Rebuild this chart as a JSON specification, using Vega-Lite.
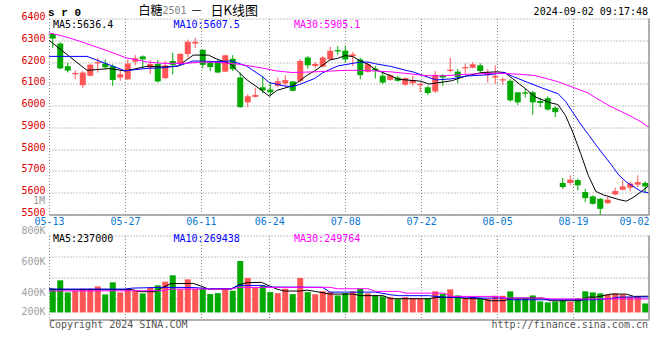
{
"$schema":"https://vega.github.io/schema/vega-lite/v6.json",
"padding":{"left":20,"top":4.5,"right":0,"bottom":0},
"background":"#ffffff",
"bounds":"flush",
"spacing":21,
"resolve":{"scale":{"x":"independent","y":"independent","color":"independent"}},
"config":{"view":{"stroke":null},"axis":{"labelFont":"DejaVu Sans Mono","labelFontSize":10,"ticks":false,"domain":false,"gridColor":"#888888","gridDash":[1,2],"gridWidth":1,"gridOpacity":1,"labelOverlap":false},"text":{"font":"DejaVu Sans Mono","fontSize":10,"baseline":"middle"}},
"datasets":{
"k":[
{"d":"05-13","o":6329,"h":6334,"l":6265,"c":6308,"v":293},
{"d":"05-14","o":6285,"h":6291,"l":6167,"c":6171,"v":373},
{"d":"05-15","o":6181,"h":6197,"l":6152,"c":6161,"v":258},
{"d":"05-16","o":6144,"h":6162,"l":6121,"c":6150,"v":274},
{"d":"05-17","o":6094,"h":6159,"l":6081,"c":6152,"v":293},
{"d":"05-20","o":6137,"h":6193,"l":6134,"c":6188,"v":293},
{"d":"05-21","o":6194,"h":6220,"l":6152,"c":6200,"v":315},
{"d":"05-22","o":6193,"h":6212,"l":6167,"c":6176,"v":239},
{"d":"05-23","o":6181,"h":6190,"l":6091,"c":6118,"v":354},
{"d":"05-24","o":6129,"h":6159,"l":6114,"c":6144,"v":258},
{"d":"05-27","o":6121,"h":6212,"l":6118,"c":6193,"v":293},
{"d":"05-28","o":6202,"h":6232,"l":6185,"c":6217,"v":274},
{"d":"05-29","o":6226,"h":6231,"l":6174,"c":6212,"v":248},
{"d":"05-30","o":6174,"h":6209,"l":6144,"c":6191,"v":306},
{"d":"05-31","o":6191,"h":6209,"l":6106,"c":6111,"v":325},
{"d":"06-03","o":6126,"h":6206,"l":6121,"c":6185,"v":360},
{"d":"06-04","o":6205,"h":6243,"l":6144,"c":6187,"v":421},
{"d":"06-05","o":6190,"h":6240,"l":6188,"c":6238,"v":287},
{"d":"06-06","o":6237,"h":6303,"l":6220,"c":6293,"v":382},
{"d":"06-07","o":6285,"h":6311,"l":6265,"c":6293,"v":293},
{"d":"06-11","o":6256,"h":6258,"l":6171,"c":6187,"v":293},
{"d":"06-12","o":6200,"h":6202,"l":6159,"c":6177,"v":242},
{"d":"06-13","o":6200,"h":6209,"l":6149,"c":6152,"v":251},
{"d":"06-14","o":6156,"h":6233,"l":6154,"c":6231,"v":293},
{"d":"06-17","o":6215,"h":6232,"l":6159,"c":6167,"v":274},
{"d":"06-18","o":6129,"h":6152,"l":5990,"c":5993,"v":557},
{"d":"06-19","o":6015,"h":6053,"l":5993,"c":6043,"v":395},
{"d":"06-20","o":6040,"h":6082,"l":6037,"c":6049,"v":303},
{"d":"06-21","o":6084,"h":6137,"l":6058,"c":6070,"v":325},
{"d":"06-24","o":6074,"h":6106,"l":6043,"c":6061,"v":261},
{"d":"06-25","o":6091,"h":6129,"l":6084,"c":6112,"v":251},
{"d":"06-26","o":6102,"h":6140,"l":6088,"c":6117,"v":293},
{"d":"06-27","o":6111,"h":6113,"l":6065,"c":6068,"v":242},
{"d":"06-28","o":6114,"h":6215,"l":6106,"c":6205,"v":395},
{"d":"07-01","o":6221,"h":6227,"l":6170,"c":6185,"v":261},
{"d":"07-02","o":6182,"h":6200,"l":6173,"c":6191,"v":240},
{"d":"07-03","o":6179,"h":6227,"l":6174,"c":6221,"v":270},
{"d":"07-04","o":6212,"h":6270,"l":6210,"c":6252,"v":261},
{"d":"07-05","o":6255,"h":6273,"l":6232,"c":6249,"v":229},
{"d":"07-08","o":6252,"h":6276,"l":6197,"c":6212,"v":251},
{"d":"07-09","o":6227,"h":6246,"l":6182,"c":6235,"v":268},
{"d":"07-10","o":6212,"h":6220,"l":6121,"c":6140,"v":293},
{"d":"07-11","o":6155,"h":6200,"l":6152,"c":6190,"v":249},
{"d":"07-12","o":6170,"h":6182,"l":6124,"c":6162,"v":229},
{"d":"07-15","o":6137,"h":6155,"l":6099,"c":6106,"v":220},
{"d":"07-16","o":6118,"h":6144,"l":6114,"c":6140,"v":213},
{"d":"07-17","o":6129,"h":6137,"l":6109,"c":6114,"v":194},
{"d":"07-18","o":6096,"h":6129,"l":6091,"c":6126,"v":213},
{"d":"07-19","o":6103,"h":6137,"l":6091,"c":6117,"v":204},
{"d":"07-22","o":6094,"h":6106,"l":6061,"c":6100,"v":204},
{"d":"07-23","o":6084,"h":6091,"l":6049,"c":6058,"v":204},
{"d":"07-24","o":6065,"h":6159,"l":6058,"c":6141,"v":268},
{"d":"07-25","o":6140,"h":6144,"l":6091,"c":6129,"v":242},
{"d":"07-26","o":6159,"h":6220,"l":6152,"c":6165,"v":287},
{"d":"07-29","o":6156,"h":6167,"l":6103,"c":6132,"v":229},
{"d":"07-30","o":6171,"h":6193,"l":6147,"c":6177,"v":204},
{"d":"07-31","o":6174,"h":6200,"l":6171,"c":6190,"v":217},
{"d":"08-01","o":6185,"h":6194,"l":6152,"c":6159,"v":204},
{"d":"08-02","o":6140,"h":6167,"l":6106,"c":6152,"v":198},
{"d":"08-05","o":6129,"h":6185,"l":6099,"c":6137,"v":226},
{"d":"08-06","o":6115,"h":6129,"l":6096,"c":6121,"v":226},
{"d":"08-07","o":6114,"h":6121,"l":6018,"c":6024,"v":268},
{"d":"08-08","o":6061,"h":6061,"l":6003,"c":6015,"v":198},
{"d":"08-09","o":6061,"h":6076,"l":6038,"c":6055,"v":204},
{"d":"08-12","o":6061,"h":6068,"l":5958,"c":6015,"v":229},
{"d":"08-13","o":6021,"h":6034,"l":5993,"c":6012,"v":172},
{"d":"08-14","o":6034,"h":6043,"l":5978,"c":5982,"v":163},
{"d":"08-15","o":5990,"h":5997,"l":5947,"c":5970,"v":172},
{"d":"08-16","o":5645,"h":5668,"l":5618,"c":5626,"v":179},
{"d":"08-19","o":5645,"h":5680,"l":5634,"c":5660,"v":169},
{"d":"08-20","o":5658,"h":5665,"l":5611,"c":5634,"v":201},
{"d":"08-21","o":5603,"h":5618,"l":5557,"c":5575,"v":268},
{"d":"08-22","o":5583,"h":5588,"l":5545,"c":5549,"v":258},
{"d":"08-23","o":5572,"h":5575,"l":5500,"c":5526,"v":249},
{"d":"08-26","o":5552,"h":5580,"l":5549,"c":5568,"v":239},
{"d":"08-27","o":5592,"h":5623,"l":5588,"c":5608,"v":249},
{"d":"08-28","o":5614,"h":5657,"l":5611,"c":5629,"v":239},
{"d":"08-29","o":5623,"h":5649,"l":5606,"c":5642,"v":217},
{"d":"08-30","o":5637,"h":5680,"l":5626,"c":5649,"v":217},
{"d":"09-02","o":5645,"h":5652,"l":5603,"c":5629,"v":153}
],
"ma":[
{"d":"05-13","s":"MA5","p":6300},{"d":"05-20","s":"MA5","p":6162},{"d":"05-23","s":"MA5","p":6170},{"d":"05-27","s":"MA5","p":6159},{"d":"05-30","s":"MA5","p":6181},{"d":"06-03","s":"MA5","p":6177},{"d":"06-05","s":"MA5","p":6182},{"d":"06-07","s":"MA5","p":6232},{"d":"06-12","s":"MA5","p":6232},{"d":"06-13","s":"MA5","p":6215},{"d":"06-17","s":"MA5","p":6190},{"d":"06-18","s":"MA5","p":6152},{"d":"06-19","s":"MA5","p":6120},{"d":"06-21","s":"MA5","p":6070},{"d":"06-24","s":"MA5","p":6043},{"d":"06-25","s":"MA5","p":6070},{"d":"06-27","s":"MA5","p":6090},{"d":"06-28","s":"MA5","p":6114},{"d":"07-01","s":"MA5","p":6140},{"d":"07-02","s":"MA5","p":6160},{"d":"07-04","s":"MA5","p":6210},{"d":"07-05","s":"MA5","p":6217},{"d":"07-08","s":"MA5","p":6230},{"d":"07-09","s":"MA5","p":6225},{"d":"07-10","s":"MA5","p":6205},{"d":"07-11","s":"MA5","p":6190},{"d":"07-12","s":"MA5","p":6165},{"d":"07-16","s":"MA5","p":6137},{"d":"07-17","s":"MA5","p":6121},{"d":"07-18","s":"MA5","p":6118},{"d":"07-22","s":"MA5","p":6112},{"d":"07-23","s":"MA5","p":6099},{"d":"07-26","s":"MA5","p":6114},{"d":"07-30","s":"MA5","p":6137},{"d":"08-01","s":"MA5","p":6152},{"d":"08-05","s":"MA5","p":6155},{"d":"08-06","s":"MA5","p":6152},{"d":"08-07","s":"MA5","p":6125},{"d":"08-09","s":"MA5","p":6070},{"d":"08-12","s":"MA5","p":6040},{"d":"08-14","s":"MA5","p":6013},{"d":"08-15","s":"MA5","p":6005},{"d":"08-16","s":"MA5","p":5955},{"d":"08-19","s":"MA5","p":5875},{"d":"08-20","s":"MA5","p":5780},{"d":"08-21","s":"MA5","p":5680},{"d":"08-22","s":"MA5","p":5606},{"d":"08-23","s":"MA5","p":5590},{"d":"08-27","s":"MA5","p":5569},{"d":"08-28","s":"MA5","p":5561},{"d":"08-29","s":"MA5","p":5580},{"d":"08-30","s":"MA5","p":5606},{"d":"09-02","s":"MA5","p":5632},
{"d":"05-13","s":"MA10","p":6226},{"d":"05-20","s":"MA10","p":6226},{"d":"05-27","s":"MA10","p":6160},{"d":"05-30","s":"MA10","p":6171},{"d":"06-03","s":"MA10","p":6174},{"d":"06-05","s":"MA10","p":6182},{"d":"06-07","s":"MA10","p":6205},{"d":"06-13","s":"MA10","p":6202},{"d":"06-17","s":"MA10","p":6205},{"d":"06-19","s":"MA10","p":6182},{"d":"06-21","s":"MA10","p":6135},{"d":"06-24","s":"MA10","p":6106},{"d":"06-26","s":"MA10","p":6090},{"d":"06-27","s":"MA10","p":6087},{"d":"06-28","s":"MA10","p":6097},{"d":"07-02","s":"MA10","p":6125},{"d":"07-03","s":"MA10","p":6150},{"d":"07-05","s":"MA10","p":6182},{"d":"07-10","s":"MA10","p":6200},{"d":"07-11","s":"MA10","p":6200},{"d":"07-12","s":"MA10","p":6192},{"d":"07-16","s":"MA10","p":6180},{"d":"07-18","s":"MA10","p":6162},{"d":"07-19","s":"MA10","p":6154},{"d":"07-23","s":"MA10","p":6129},{"d":"07-24","s":"MA10","p":6118},{"d":"07-26","s":"MA10","p":6123},{"d":"07-30","s":"MA10","p":6136},{"d":"08-02","s":"MA10","p":6142},{"d":"08-06","s":"MA10","p":6152},{"d":"08-07","s":"MA10","p":6135},{"d":"08-09","s":"MA10","p":6107},{"d":"08-13","s":"MA10","p":6080},{"d":"08-15","s":"MA10","p":6055},{"d":"08-16","s":"MA10","p":6020},{"d":"08-20","s":"MA10","p":5915},{"d":"08-21","s":"MA10","p":5868},{"d":"08-22","s":"MA10","p":5820},{"d":"08-26","s":"MA10","p":5730},{"d":"08-27","s":"MA10","p":5682},{"d":"08-28","s":"MA10","p":5650},{"d":"08-30","s":"MA10","p":5605},{"d":"09-02","s":"MA10","p":5600},
{"d":"05-13","s":"MA30","p":6334},{"d":"05-15","s":"MA30","p":6318},{"d":"05-17","s":"MA30","p":6296},{"d":"05-22","s":"MA30","p":6260},{"d":"05-24","s":"MA30","p":6235},{"d":"05-27","s":"MA30","p":6221},{"d":"05-30","s":"MA30","p":6200},{"d":"06-03","s":"MA30","p":6194},{"d":"06-06","s":"MA30","p":6194},{"d":"06-11","s":"MA30","p":6200},{"d":"06-13","s":"MA30","p":6199},{"d":"06-18","s":"MA30","p":6190},{"d":"06-21","s":"MA30","p":6173},{"d":"06-25","s":"MA30","p":6159},{"d":"06-27","s":"MA30","p":6152},{"d":"07-02","s":"MA30","p":6155},{"d":"07-08","s":"MA30","p":6162},{"d":"07-10","s":"MA30","p":6162},{"d":"07-12","s":"MA30","p":6159},{"d":"07-16","s":"MA30","p":6155},{"d":"07-18","s":"MA30","p":6148},{"d":"07-22","s":"MA30","p":6140},{"d":"07-23","s":"MA30","p":6137},{"d":"07-25","s":"MA30","p":6137},{"d":"07-30","s":"MA30","p":6144},{"d":"08-05","s":"MA30","p":6149},{"d":"08-08","s":"MA30","p":6144},{"d":"08-12","s":"MA30","p":6138},{"d":"08-15","s":"MA30","p":6110},{"d":"08-19","s":"MA30","p":6084},{"d":"08-21","s":"MA30","p":6058},{"d":"08-22","s":"MA30","p":6035},{"d":"08-26","s":"MA30","p":5995},{"d":"08-28","s":"MA30","p":5962},{"d":"08-30","s":"MA30","p":5925},{"d":"09-02","s":"MA30","p":5900}
],
"vma":[
{"d":"05-13","s":"MA5","v":293},{"d":"05-14","s":"MA5","v":284},{"d":"05-28","s":"MA5","v":284},{"d":"05-29","s":"MA5","v":265},{"d":"05-31","s":"MA5","v":265},{"d":"06-03","s":"MA5","v":306},{"d":"06-04","s":"MA5","v":341},{"d":"06-07","s":"MA5","v":344},{"d":"06-11","s":"MA5","v":318},{"d":"06-12","s":"MA5","v":290},{"d":"06-17","s":"MA5","v":290},{"d":"06-18","s":"MA5","v":330},{"d":"06-19","s":"MA5","v":350},{"d":"06-21","s":"MA5","v":354},{"d":"06-24","s":"MA5","v":320},{"d":"06-25","s":"MA5","v":290},{"d":"06-26","s":"MA5","v":271},{"d":"06-28","s":"MA5","v":271},{"d":"07-01","s":"MA5","v":280},{"d":"07-02","s":"MA5","v":268},{"d":"07-04","s":"MA5","v":242},{"d":"07-09","s":"MA5","v":242},{"d":"07-10","s":"MA5","v":227},{"d":"07-15","s":"MA5","v":227},{"d":"07-16","s":"MA5","v":198},{"d":"07-23","s":"MA5","v":198},{"d":"07-24","s":"MA5","v":210},{"d":"07-29","s":"MA5","v":210},{"d":"07-30","s":"MA5","v":198},{"d":"08-01","s":"MA5","v":198},{"d":"08-02","s":"MA5","v":179},{"d":"08-06","s":"MA5","v":179},{"d":"08-07","s":"MA5","v":204},{"d":"08-13","s":"MA5","v":204},{"d":"08-14","s":"MA5","v":179},{"d":"08-20","s":"MA5","v":179},{"d":"08-21","s":"MA5","v":213},{"d":"08-22","s":"MA5","v":213},{"d":"08-26","s":"MA5","v":242},{"d":"08-28","s":"MA5","v":242},{"d":"08-29","s":"MA5","v":220},{"d":"09-02","s":"MA5","v":222},
{"d":"05-13","s":"MA10","v":290},{"d":"05-27","s":"MA10","v":290},{"d":"05-28","s":"MA10","v":299},{"d":"06-03","s":"MA10","v":306},{"d":"06-07","s":"MA10","v":305},{"d":"06-12","s":"MA10","v":293},{"d":"06-17","s":"MA10","v":293},{"d":"06-18","s":"MA10","v":325},{"d":"06-21","s":"MA10","v":325},{"d":"06-24","s":"MA10","v":309},{"d":"07-03","s":"MA10","v":307},{"d":"07-04","s":"MA10","v":261},{"d":"07-12","s":"MA10","v":261},{"d":"07-16","s":"MA10","v":235},{"d":"07-17","s":"MA10","v":227},{"d":"07-23","s":"MA10","v":227},{"d":"07-25","s":"MA10","v":213},{"d":"07-30","s":"MA10","v":213},{"d":"08-01","s":"MA10","v":204},{"d":"08-06","s":"MA10","v":204},{"d":"08-07","s":"MA10","v":188},{"d":"08-22","s":"MA10","v":188},{"d":"08-26","s":"MA10","v":200},{"d":"08-27","s":"MA10","v":213},{"d":"09-02","s":"MA10","v":215},
{"d":"05-13","s":"MA30","v":272},{"d":"06-03","s":"MA30","v":274},{"d":"06-04","s":"MA30","v":290},{"d":"06-17","s":"MA30","v":290},{"d":"06-18","s":"MA30","v":306},{"d":"07-04","s":"MA30","v":306},{"d":"07-05","s":"MA30","v":293},{"d":"07-11","s":"MA30","v":293},{"d":"07-12","s":"MA30","v":268},{"d":"07-17","s":"MA30","v":268},{"d":"07-18","s":"MA30","v":251},{"d":"07-25","s":"MA30","v":251},{"d":"07-26","s":"MA30","v":220},{"d":"08-05","s":"MA30","v":220},{"d":"08-06","s":"MA30","v":204},{"d":"08-13","s":"MA30","v":204},{"d":"08-14","s":"MA30","v":196},{"d":"09-02","s":"MA30","v":196}
]
},
"vconcat":[
{
"width":600,"height":196,
"resolve":{"scale":{"x":"independent"}},
"layer":[
{"data":{"name":"k"},
 "encoding":{"x":{"field":"d","type":"ordinal","scale":{"type":"band","paddingInner":0,"paddingOuter":0},"axis":null},
  "color":{"condition":{"test":"datum.c >= datum.o","value":"#ff5555"},"value":"#00a800"}},
 "layer":[
  {"mark":{"type":"rule","strokeWidth":1},
   "encoding":{"y":{"field":"l","type":"quantitative","title":null,"scale":{"domain":[5500,6400],"nice":false,"zero":false},
     "axis":{"orient":"left","values":[5500,5600,5700,5800,5900,6000,6100,6200,6300,6400],"format":"d","grid":true,"labelOverlap":false,"labelColor":"#dd0000","labelPadding":4,"labelOffset":-2}},
    "y2":{"field":"h"}}},
  {"mark":{"type":"bar","width":{"band":0.8}},
   "encoding":{"y":{"field":"o","type":"quantitative","title":null,
     "axis":{"orient":"left","values":[5500,5600,5700,5800,5900,6000,6100,6200,6300,6400],"format":"d","grid":true,"labelOverlap":false,"labelColor":"#dd0000","labelPadding":4,"labelOffset":-2}},"y2":{"field":"c"}}}
 ]},
{"encoding":{
   "x":{"type":"ordinal","title":null,
     "scale":{"type":"point","padding":0,"domain":["05-13","05-14","05-15","05-16","05-17","05-20","05-21","05-22","05-23","05-24","05-27","05-28","05-29","05-30","05-31","06-03","06-04","06-05","06-06","06-07","06-11","06-12","06-13","06-14","06-17","06-18","06-19","06-20","06-21","06-24","06-25","06-26","06-27","06-28","07-01","07-02","07-03","07-04","07-05","07-08","07-09","07-10","07-11","07-12","07-15","07-16","07-17","07-18","07-19","07-22","07-23","07-24","07-25","07-26","07-29","07-30","07-31","08-01","08-02","08-05","08-06","08-07","08-08","08-09","08-12","08-13","08-14","08-15","08-16","08-19","08-20","08-21","08-22","08-23","08-26","08-27","08-28","08-29","08-30","09-02"]},
     "axis":{"orient":"bottom","values":["05-13","05-27","06-11","06-24","07-08","07-22","08-05","08-19","09-02"],"grid":true,"domain":true,"domainColor":"#999999","domainWidth":1.5,
      "labelColor":"#0a78d2","labelPadding":2,"labelAngle":0,"labelOverlap":false,
      "labelAlign":{"condition":{"test":"datum.value == '09-02'","value":"right"},"value":"center"}}},
   "y":{"type":"quantitative","title":null,
     "axis":{"orient":"left","values":[5500,5600,5700,5800,5900,6000,6100,6200,6300,6400],"format":"d","grid":true,"labelOverlap":false,"labelColor":"#dd0000","labelPadding":4,"labelOffset":-2}}
 },
 "layer":[
  {"data":{"name":"ma"},"mark":{"type":"line","strokeWidth":1},
   "encoding":{"x":{"field":"d"},"y":{"field":"p"},
    "color":{"field":"s","type":"nominal","scale":{"domain":["MA5","MA10","MA30"],"range":["#000000","#0000ff","#ff00ff"]},"legend":null}}},
  {"data":{"values":[{}]},"mark":{"type":"rule","color":"#999999","strokeWidth":1.5},"encoding":{"x":{"datum":"09-02"}}},
  {"data":{"values":[{}]},"mark":{"type":"text","align":"right","dx":-4,"color":"#999999"},"encoding":{"x":{"datum":"05-13"},"y":{"datum":5562},"text":{"value":"1M"}}},
  {"data":{"values":[{}]},"mark":{"type":"text","align":"left","dx":4,"color":"#000000"},"encoding":{"x":{"datum":"05-13"},"y":{"datum":6369},"text":{"value":"MA5:5636.4"}}},
  {"data":{"values":[{}]},"mark":{"type":"text","align":"left","dx":3,"color":"#0000ff"},"encoding":{"x":{"datum":"06-04"},"y":{"datum":6369},"text":{"value":"MA10:5607.5"}}},
  {"data":{"values":[{}]},"mark":{"type":"text","align":"left","dx":2,"color":"#ff00ff"},"encoding":{"x":{"datum":"06-27"},"y":{"datum":6369},"text":{"value":"MA30:5905.1"}}},
  {"data":{"values":[{}]},"mark":{"type":"text","align":"left","dx":-1,"color":"#000000","font":"Liberation Mono","fontWeight":"bold","fontSize":11},"encoding":{"x":{"datum":"05-13"},"y":{"datum":6425},"text":{"value":"s r 0"}}},
  {"data":{"values":[{}]},"mark":{"type":"text","align":"left","dx":6,"color":"#000000","font":"Noto Sans CJK SC","fontSize":12},"encoding":{"x":{"datum":"05-28"},"y":{"datum":6434},"text":{"value":"白糖"}}},
  {"data":{"values":[{}]},"mark":{"type":"text","align":"left","dx":30,"color":"#808080","fontSize":10},"encoding":{"x":{"datum":"05-28"},"y":{"datum":6433},"text":{"value":"2501"}}},
  {"data":{"values":[{}]},"mark":{"type":"text","align":"left","dx":58,"color":"#000000","font":"Noto Sans CJK SC","fontSize":12},"encoding":{"x":{"datum":"05-28"},"y":{"datum":6434},"text":{"value":"－"}}},
  {"data":{"values":[{}]},"mark":{"type":"text","align":"left","dx":78,"color":"#000000","font":"Noto Sans CJK SC","fontSize":13},"encoding":{"x":{"datum":"05-28"},"y":{"datum":6434},"text":{"value":"日K线图"}}},
  {"data":{"values":[{}]},"mark":{"type":"text","align":"right","dx":-1,"color":"#000000"},"encoding":{"x":{"datum":"09-02"},"y":{"datum":6429},"text":{"value":"2024-09-02 09:17:48"}}}
 ]}
]
},
{
"width":600,"height":84,
"resolve":{"scale":{"x":"independent"}},
"layer":[
{"data":{"name":"k"},"mark":{"type":"bar","width":{"band":0.8}},
 "encoding":{"x":{"field":"d","type":"ordinal","scale":{"type":"band","paddingInner":0,"paddingOuter":0},"axis":null},
  "y":{"field":"v","type":"quantitative","title":null,"scale":{"domain":[0,800],"nice":false},
   "axis":{"orient":"left","values":[200,400,600,800],"grid":true,"labelOverlap":false,"labelExpr":"datum.value + 'K'","labelColor":"#a0a0a0","labelPadding":4,
    "labelOffset":{"condition":[{"test":"datum.value == 800","value":-5},{"test":"datum.value == 600","value":5},{"test":"datum.value == 400","value":15},{"test":"datum.value == 200","value":13}],"value":0}}},
  "y2":{"datum":67},
  "color":{"condition":{"test":"datum.c >= datum.o","value":"#ff5555"},"value":"#00a800"}}},
{"encoding":{
   "x":{"type":"ordinal","title":null,
     "scale":{"type":"point","padding":0,"domain":["05-13","05-14","05-15","05-16","05-17","05-20","05-21","05-22","05-23","05-24","05-27","05-28","05-29","05-30","05-31","06-03","06-04","06-05","06-06","06-07","06-11","06-12","06-13","06-14","06-17","06-18","06-19","06-20","06-21","06-24","06-25","06-26","06-27","06-28","07-01","07-02","07-03","07-04","07-05","07-08","07-09","07-10","07-11","07-12","07-15","07-16","07-17","07-18","07-19","07-22","07-23","07-24","07-25","07-26","07-29","07-30","07-31","08-01","08-02","08-05","08-06","08-07","08-08","08-09","08-12","08-13","08-14","08-15","08-16","08-19","08-20","08-21","08-22","08-23","08-26","08-27","08-28","08-29","08-30","09-02"]},
     "axis":{"orient":"bottom","values":["05-13","05-27","06-11","06-24","07-08","07-22","08-05","08-19","09-02"],"grid":true,"labels":false,"domain":true,"domainColor":"#999999","domainWidth":1.5}},
   "y":{"type":"quantitative","title":null,
     "axis":{"orient":"left","values":[200,400,600,800],"grid":true,"labelOverlap":false,"labelExpr":"datum.value + 'K'","labelColor":"#a0a0a0","labelPadding":4,
      "labelOffset":{"condition":[{"test":"datum.value == 800","value":-5},{"test":"datum.value == 600","value":5},{"test":"datum.value == 400","value":15},{"test":"datum.value == 200","value":13}],"value":0}}}
 },
 "layer":[
  {"data":{"name":"vma"},"mark":{"type":"line","strokeWidth":1},
   "encoding":{"x":{"field":"d"},"y":{"field":"v"},
    "color":{"field":"s","type":"nominal","scale":{"domain":["MA5","MA10","MA30"],"range":["#000000","#0000ff","#ff00ff"]},"legend":null}}},
  {"data":{"values":[{}]},"mark":{"type":"rule","color":"#999999","strokeWidth":1.5},"encoding":{"x":{"datum":"09-02"}}},
  {"data":{"values":[{}]},"mark":{"type":"text","align":"left","dx":4,"color":"#000000"},"encoding":{"x":{"datum":"05-13"},"y":{"datum":762},"text":{"value":"MA5:237000"}}},
  {"data":{"values":[{}]},"mark":{"type":"text","align":"left","dx":3,"color":"#0000ff"},"encoding":{"x":{"datum":"06-04"},"y":{"datum":762},"text":{"value":"MA10:269438"}}},
  {"data":{"values":[{}]},"mark":{"type":"text","align":"left","dx":2,"color":"#ff00ff"},"encoding":{"x":{"datum":"06-27"},"y":{"datum":762},"text":{"value":"MA30:249764"}}},
  {"data":{"values":[{}]},"mark":{"type":"text","align":"left","dx":0,"color":"#555555"},"encoding":{"x":{"datum":"05-13"},"y":{"datum":-50},"text":{"value":"Copyright 2024 SINA.COM"}}},
  {"data":{"values":[{}]},"mark":{"type":"text","align":"right","dx":-1,"color":"#555555"},"encoding":{"x":{"datum":"09-02"},"y":{"datum":-50},"text":{"value":"http://finance.sina.com.cn"}}}
 ]}
]
}
]
}
